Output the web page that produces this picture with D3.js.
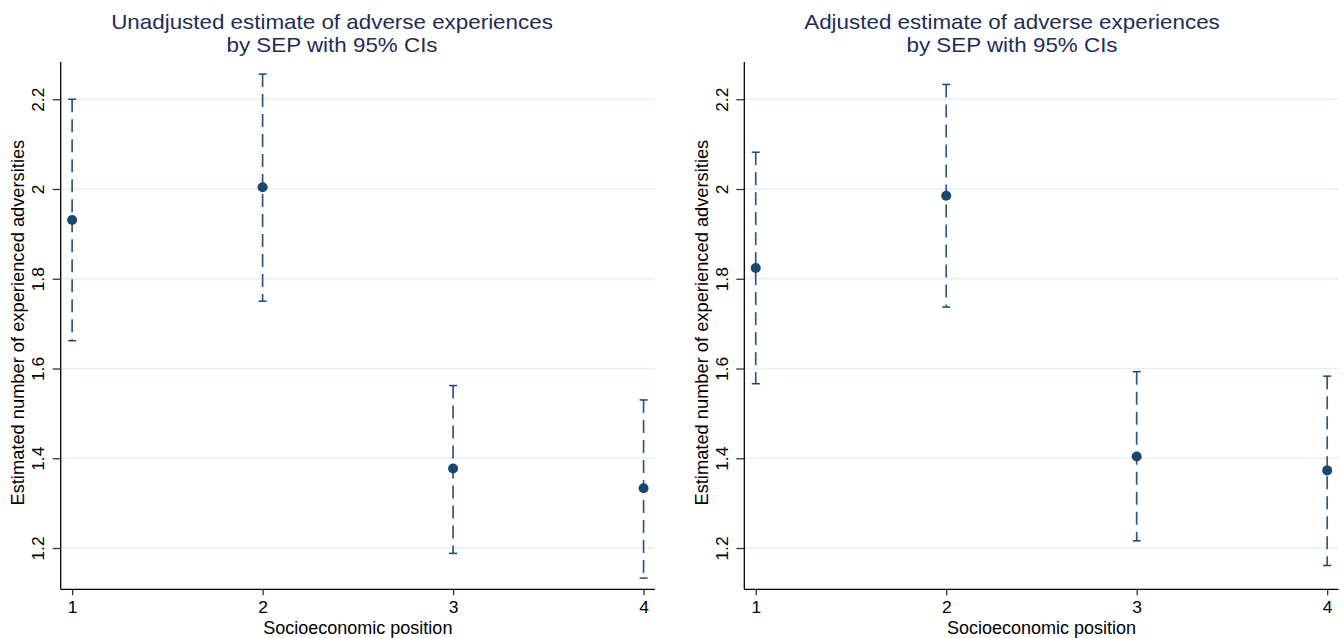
<!DOCTYPE html>
<html>
<head>
<meta charset="utf-8">
<script src="https://cdn.jsdelivr.net/npm/d3@7"></script>
<style>
  html, body { margin: 0; padding: 0; background: #ffffff; }
  svg { display: block; }
  text { font-family: "Liberation Sans", Arial, sans-serif; }
</style>
</head>
<body>
<svg id="chart" width="1344" height="638"></svg>
<script>
// Socioeconomic position categories
const sepLevels = [1, 2, 3, 4];

// Unadjusted model: point estimates and 95% CI bounds
const unadjEst = [1.931, 2.004, 1.377, 1.333];
const unadjLo  = [1.662, 1.750, 1.188, 1.133];
const unadjHi  = [2.200, 2.256, 1.562, 1.530];

// Adjusted model: point estimates and 95% CI bounds
const adjEst = [1.824, 1.985, 1.404, 1.373];
const adjLo  = [1.566, 1.737, 1.216, 1.161];
const adjHi  = [2.082, 2.233, 1.593, 1.583];

// Axis ticks
const yTicks = [1.2, 1.4, 1.6, 1.8, 2.0, 2.2];
const yTickLabels = ["1.2", "1.4", "1.6", "1.8", "2", "2.2"];
const xTicks = [1, 2, 3, 4];

// Axis extents (data units)
const xExtent = [0.94, 4.06];
const yExtent = [1.108, 2.283];

const panels = [
  { title: ["Unadjusted estimate of adverse experiences", "by SEP with 95% CIs"],
    est: unadjEst, lo: unadjLo, hi: unadjHi,
    x0: 60.7, x1: 655, titleX: 332 },
  { title: ["Adjusted estimate of adverse experiences", "by SEP with 95% CIs"],
    est: adjEst, lo: adjLo, hi: adjHi,
    x0: 744.3, x1: 1338.6, titleX: 1012 }
];

const plotTop = 62, plotBottom = 589.3;
const markColor = "#1a476f";
const spikeColor = "#2d5a86";
const gridColor = "#e6eff2";
const titleColor = "#1d2e56";

const svg = d3.select("#chart");

panels.forEach(p => {
  const x = d3.scaleLinear().domain(xExtent).range([p.x0, p.x1]);
  const y = d3.scaleLinear().domain(yExtent).range([plotBottom, plotTop]);
  const g = svg.append("g");

  // two-line title, slightly widened glyphs
  p.title.forEach((line, i) => {
    g.append("text")
      .attr("transform", `translate(${p.titleX},${29 + i * 22.5}) scale(1.12,1)`)
      .attr("text-anchor", "middle")
      .attr("font-size", 20)
      .attr("fill", titleColor)
      .text(line);
  });

  // horizontal gridlines
  g.append("g").selectAll("line")
    .data(yTicks)
    .join("line")
    .attr("x1", p.x0).attr("x2", p.x1)
    .attr("y1", d => y(d)).attr("y2", d => y(d))
    .attr("stroke", gridColor)
    .attr("stroke-width", 1.5);

  // y axis
  const yAxis = g.append("g")
    .attr("transform", `translate(${p.x0},0)`)
    .call(d3.axisLeft(y)
      .tickValues(yTicks)
      .tickFormat((d, i) => yTickLabels[i])
      .tickSize(8)
      .tickPadding(0)
      .tickSizeOuter(0));
  yAxis.select(".domain")
    .attr("d", `M0,${plotTop}V${plotBottom}`)
    .attr("stroke", "#000").attr("stroke-width", 1.3);
  yAxis.selectAll(".tick line").attr("stroke", "#333").attr("stroke-width", 1.3);
  yAxis.selectAll(".tick text")
    .attr("x", null).attr("dy", null)
    .attr("transform", "translate(-16.5,0) rotate(-90)")
    .attr("text-anchor", "middle")
    .attr("font-size", 17.4)
    .attr("font-family", "Liberation Sans, Arial, sans-serif")
    .attr("fill", "#000");

  // x axis
  const xAxis = g.append("g")
    .attr("transform", `translate(0,${plotBottom})`)
    .call(d3.axisBottom(x)
      .tickValues(xTicks)
      .tickFormat(d3.format("d"))
      .tickSize(6)
      .tickPadding(0)
      .tickSizeOuter(0));
  xAxis.select(".domain")
    .attr("d", `M${p.x0},0H${p.x1}`)
    .attr("stroke", "#000").attr("stroke-width", 1.3);
  xAxis.selectAll(".tick line").attr("stroke", "#333").attr("stroke-width", 1.3);
  xAxis.selectAll(".tick text")
    .attr("y", 24).attr("dy", null)
    .attr("font-size", 17.4)
    .attr("font-family", "Liberation Sans, Arial, sans-serif")
    .attr("fill", "#000");

  // axis titles
  g.append("text")
    .attr("transform", `translate(${p.x0 - 36.7},${(plotTop + plotBottom) / 2 - 3}) rotate(-90)`)
    .attr("text-anchor", "middle")
    .attr("font-size", 18.3)
    .attr("fill", "#000")
    .text("Estimated number of experienced adversities");
  g.append("text")
    .attr("x", (p.x0 + p.x1) / 2)
    .attr("y", 634)
    .attr("text-anchor", "middle")
    .attr("font-size", 18)
    .attr("fill", "#000")
    .text("Socioeconomic position");

  const rows = sepLevels.map((s, i) => ({ s, est: p.est[i], lo: p.lo[i], hi: p.hi[i] }));

  // dashed CI spikes
  g.append("g").selectAll("line")
    .data(rows)
    .join("line")
    .attr("x1", d => x(d.s)).attr("x2", d => x(d.s))
    .attr("y1", d => y(d.hi)).attr("y2", d => y(d.lo))
    .attr("stroke", spikeColor)
    .attr("stroke-width", 1.7)
    .attr("stroke-dasharray", "13 7");

  // caps
  const capHalf = 4;
  ["lo", "hi"].forEach(k => {
    g.append("g").selectAll("line")
      .data(rows)
      .join("line")
      .attr("x1", d => x(d.s) - capHalf).attr("x2", d => x(d.s) + capHalf)
      .attr("y1", d => y(d[k])).attr("y2", d => y(d[k]))
      .attr("stroke", markColor)
      .attr("stroke-width", 1.5);
  });

  // point estimates
  g.append("g").selectAll("circle")
    .data(rows)
    .join("circle")
    .attr("cx", d => x(d.s))
    .attr("cy", d => y(d.est))
    .attr("r", 5)
    .attr("fill", markColor);
});
</script>
</body>
</html>
